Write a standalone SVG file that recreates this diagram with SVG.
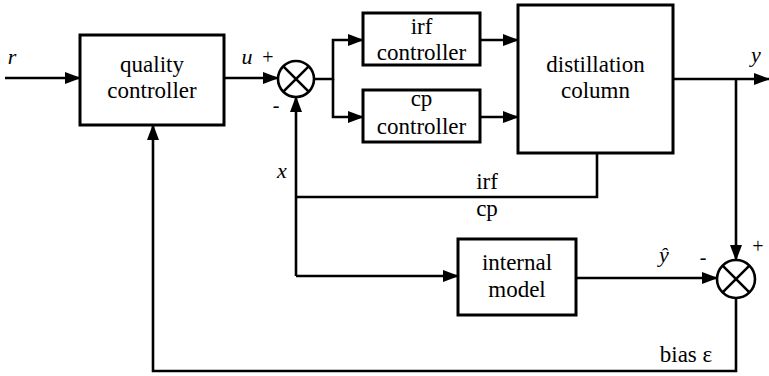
<svg xmlns="http://www.w3.org/2000/svg" width="769" height="376" viewBox="0 0 769 376">
<defs>
<marker id="ah" markerWidth="16" markerHeight="12" refX="15" refY="6" orient="auto" markerUnits="userSpaceOnUse">
<path d="M0,0 L16,6 L0,12 Z" fill="#000" stroke="none"/>
</marker>
</defs>
<rect width="769" height="376" fill="#fff"/>
<g id="connectors" fill="none" stroke="#000" stroke-width="2.6">
<path d="M5,78 H80" marker-end="url(#ah)"/>
<path d="M224,78 H278" marker-end="url(#ah)"/>
<path d="M315,79 H333 V40 H363" marker-end="url(#ah)"/>
<path d="M333,79 V117 H363" marker-end="url(#ah)"/>
<path d="M480,40 H518" marker-end="url(#ah)"/>
<path d="M480,117 H518" marker-end="url(#ah)"/>
<path d="M673,79 H769" marker-end="url(#ah)"/>
<path d="M736,79 V260" marker-end="url(#ah)"/>
<path d="M597,153 V197 H296"/>
<path d="M296,276 V97" marker-end="url(#ah)"/>
<path d="M296,276 H458" marker-end="url(#ah)"/>
<path d="M576,278 H717" marker-end="url(#ah)"/>
<path d="M736,298 V371 H153 V125" marker-end="url(#ah)"/>
</g>
<g id="quality-controller">
<rect x="80" y="35" width="144" height="90" fill="#fff" stroke="#000" stroke-width="3"/>
<text x="152" y="72" font-family="Liberation Serif" font-size="23" text-anchor="middle">quality</text>
<text x="152" y="98" font-family="Liberation Serif" font-size="23" text-anchor="middle">controller</text>
</g>
<g id="sum1">
<circle cx="296" cy="79" r="18" fill="#fff" stroke="#000" stroke-width="2.6"/>
<path d="M283.3,66.3 L308.7,91.7 M308.7,66.3 L283.3,91.7" stroke="#000" stroke-width="2.6"/>
</g>
<g id="irf-controller">
<rect x="363" y="13" width="117" height="52" fill="#fff" stroke="#000" stroke-width="3"/>
<text x="421.5" y="34" font-family="Liberation Serif" font-size="23" text-anchor="middle">irf</text>
<text x="421.5" y="60" font-family="Liberation Serif" font-size="23" text-anchor="middle">controller</text>
</g>
<g id="cp-controller">
<rect x="363" y="90" width="117" height="52" fill="#fff" stroke="#000" stroke-width="3"/>
<text x="421.5" y="106" font-family="Liberation Serif" font-size="23" text-anchor="middle">cp</text>
<text x="421.5" y="134" font-family="Liberation Serif" font-size="23" text-anchor="middle">controller</text>
</g>
<g id="distillation-column">
<rect x="518" y="5" width="155" height="148" fill="#fff" stroke="#000" stroke-width="3"/>
<text x="595.5" y="72" font-family="Liberation Serif" font-size="23" text-anchor="middle">distillation</text>
<text x="595.5" y="98" font-family="Liberation Serif" font-size="23" text-anchor="middle">column</text>
</g>
<g id="internal-model">
<rect x="458" y="239" width="118" height="76" fill="#fff" stroke="#000" stroke-width="3"/>
<text x="517" y="270" font-family="Liberation Serif" font-size="23" text-anchor="middle">internal</text>
<text x="517" y="297" font-family="Liberation Serif" font-size="23" text-anchor="middle">model</text>
</g>
<g id="sum2">
<circle cx="736" cy="279" r="19" fill="#fff" stroke="#000" stroke-width="2.6"/>
<path d="M722.6,265.6 L749.4,292.4 M749.4,265.6 L722.6,292.4" stroke="#000" stroke-width="2.6"/>
</g>
<g id="labels">
<text x="12" y="64" font-family="Liberation Serif" font-style="italic" font-size="22" text-anchor="middle">r</text>
<text x="247" y="64" font-family="Liberation Serif" font-style="italic" font-size="22" text-anchor="middle">u</text>
<text x="268" y="64" font-family="Liberation Serif" font-size="20" text-anchor="middle">+</text>
<text x="276" y="112" font-family="Liberation Serif" font-size="20" text-anchor="middle">-</text>
<text x="282" y="178" font-family="Liberation Serif" font-style="italic" font-size="22" text-anchor="middle">x</text>
<text x="487" y="189" font-family="Liberation Serif" font-size="23" text-anchor="middle">irf</text>
<text x="487" y="216" font-family="Liberation Serif" font-size="23" text-anchor="middle">cp</text>
<text x="756" y="62" font-family="Liberation Serif" font-style="italic" font-size="22" text-anchor="middle">y</text>
<text x="664" y="262" font-family="Liberation Serif" font-style="italic" font-size="22" text-anchor="middle">ŷ</text>
<text x="703" y="264" font-family="Liberation Serif" font-size="20" text-anchor="middle">-</text>
<text x="758" y="253" font-family="Liberation Serif" font-size="20" text-anchor="middle">+</text>
<text x="686" y="362" font-family="Liberation Serif" font-size="23" text-anchor="middle">bias ε</text>
</g>
</svg>
